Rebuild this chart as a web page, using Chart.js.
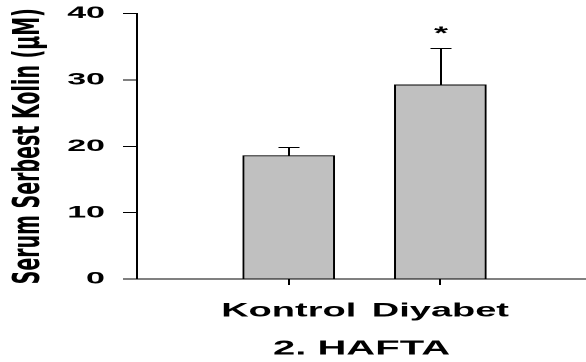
<!DOCTYPE html>
<html><head><meta charset="utf-8">
<script src="https://cdn.jsdelivr.net/npm/chart.js@4"></script>
<style>
html,body{margin:0;padding:0;background:#fff;overflow:hidden;}
#wrap{position:absolute;left:0;top:0;width:293px;height:362px;transform:scale(2,1);transform-origin:0 0;}
</style></head><body>
<div id="wrap"><canvas id="c" width="293" height="362"></canvas></div>
<script>
const categories = ['Kontrol', 'Diyabet'];
const means = [18.6, 29.25];
const errors = [1.35, 5.55];
const significance = ['', '*'];
const yTicks = [0, 10, 20, 30, 40];
const xTitle = '2. HAFTA';
const yTitle = 'Serum Serbest Kolin (µM)';

const errorBarPlugin = {
  id: 'errbars',
  afterDatasetsDraw(chart) {
    const ctx = chart.ctx, xs = chart.scales.x, ys = chart.scales.y;
    ctx.save();
    ctx.strokeStyle = '#000';
    ctx.lineWidth = 1;
    means.forEach((m, i) => {
      const x = Math.round(xs.getPixelForValue(i + 1)) + 0.5;
      const y0 = ys.getPixelForValue(m);
      const y1 = Math.round(ys.getPixelForValue(m + errors[i])) + 0.5;
      ctx.beginPath();
      ctx.moveTo(x, y0); ctx.lineTo(x, y1);
      ctx.moveTo(x - 5.25, y1); ctx.lineTo(x + 5.25, y1);
      ctx.stroke();
      if (significance[i]) {
        ctx.font = 'bold 18px "Liberation Sans", Arial, sans-serif';
        ctx.textAlign = 'center';
        ctx.textBaseline = 'alphabetic';
        ctx.fillStyle = '#000';
        ctx.fillText(significance[i], x, y1 - 9);
      }
    });
    ctx.restore();
  }
};

const fontFam = '"Liberation Sans", Arial, Helvetica, sans-serif';

new Chart(document.getElementById('c'), {
  type: 'bar',
  data: {
    datasets: [{
      data: categories.map((c, i) => ({ x: i + 1, y: means[i] })),
      backgroundColor: '#c0c0c0',
      borderColor: '#000',
      borderWidth: 1,
      barThickness: 45.7
    }]
  },
  options: {
    responsive: false,
    devicePixelRatio: 2,
    animation: false,
    layout: { padding: { top: 13.5, right: 0, left: 0, bottom: 0 } },
    plugins: { legend: { display: false }, tooltip: { enabled: false } },
    scales: {
      x: {
        type: 'linear', min: 0, max: 2.96, offset: false,
        afterBuildTicks(s) { s.ticks = categories.map((c, i) => ({ value: i + 1 })); },
        ticks: {
          callback: (v) => categories[v - 1] ?? '',
          color: '#000', autoSkip: false, maxRotation: 0, padding: 15,
          font: { family: fontFam, size: 19, weight: 'bold' }
        },
        grid: { offset: false, drawOnChartArea: false, drawTicks: true, tickLength: 6, tickColor: '#000', tickWidth: 1 },
        border: { display: true, color: '#000', width: 1 },
        title: { display: true, text: xTitle, color: '#000', padding: { top: 0, bottom: 1 },
          font: { family: fontFam, size: 20, weight: 'bold' } },
        afterFit(s) { s.height = 83; s.paddingLeft = 0; s.paddingRight = 0; }
      },
      y: {
        min: 0, max: 40,
        afterBuildTicks(s) { s.ticks = yTicks.map(v => ({ value: v })); },
        ticks: { color: '#000', padding: 9, font: { family: fontFam, size: 17, weight: 'bold' } },
        grid: { drawOnChartArea: false, drawTicks: true, tickLength: 7, tickColor: '#000', tickWidth: 1 },
        border: { display: true, color: '#000', width: 1 },
        title: { display: true, text: yTitle, color: '#000', padding: { top: 3, bottom: 0 },
          font: { family: '"DejaVu Sans", sans-serif', size: 19, weight: 'bold' } },
        afterFit(s) { s.width = 68.5; s.paddingTop = 0; s.paddingBottom = 0; }
      }
    }
  },
  plugins: [errorBarPlugin]
});
</script>
</body></html>
